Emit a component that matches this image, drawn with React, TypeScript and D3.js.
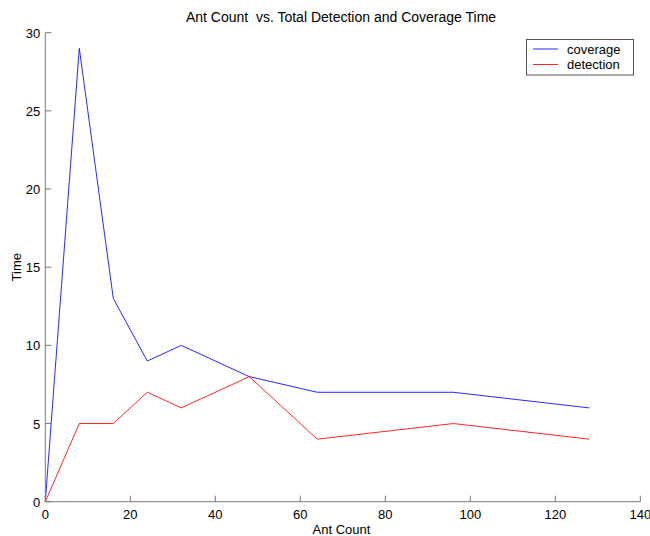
import React from "react";
import * as d3 from "d3";

const antCounts = [0, 8, 16, 24, 32, 48, 64, 96, 128];
const coverage = [0, 29, 13, 9, 10, 8, 7, 7, 6];
const detection = [0, 5, 5, 7, 6, 8, 4, 5, 4];
const xTicks = [0, 20, 40, 60, 80, 100, 120, 140];
const yTicks = [0, 5, 10, 15, 20, 25, 30];
const seriesNames = ["coverage", "detection"];
const seriesColors = ["#0000ff", "#ff0000"];

export default function App() {
  const x = d3.scaleLinear().domain([0, 140]).range([45.3, 640.3]);
  const y = d3.scaleLinear().domain([0, 30]).range([501.7, 32.7]);
  const line = d3
    .line<number>()
    .x((_, i) => x(antCounts[i]))
    .y((d) => y(d));
  const series = [coverage, detection];
  const font = "'Liberation Sans', Arial, sans-serif";
  const axisColor = "#777";
  return (
    <svg
      width={650}
      height={536}
      style={{ position: "absolute", left: 0, top: 0, background: "#fff" }}
      fontFamily={font}
    >
      <rect x={0} y={0} width={650} height={536} fill="#fff" />
      {series.map((s, i) => (
        <path key={i} d={line(s) || ""} fill="none" stroke={seriesColors[i]} strokeWidth={0.85} />
      ))}
      <line x1={x(0)} x2={x(140)} y1={y(0)} y2={y(0)} stroke={axisColor} />
      <line x1={x(0)} x2={x(0)} y1={y(0)} y2={y(30)} stroke={axisColor} />
      {xTicks.map((t) => (
        <g key={"x" + t}>
          <line x1={x(t)} x2={x(t)} y1={y(0)} y2={y(0) - 6} stroke={axisColor} />
          <text x={x(t)} y={y(0) + 17} textAnchor="middle" fontSize={13} fill="#000">
            {t}
          </text>
        </g>
      ))}
      {yTicks.map((t) => (
        <g key={"y" + t}>
          <line x1={x(0)} x2={x(0) + 6} y1={y(t)} y2={y(t)} stroke={axisColor} />
          <text x={x(0) - 5} y={y(t) + 5} textAnchor="end" fontSize={13} fill="#000">
            {t}
          </text>
        </g>
      ))}
      <text x={341} y={22} textAnchor="middle" fontSize={14} fill="#000" style={{ whiteSpace: "pre" }}>
        {"Ant Count  vs. Total Detection and Coverage Time"}
      </text>
      <text x={341.5} y={534} textAnchor="middle" fontSize={13} fill="#000">
        Ant Count
      </text>
      <text
        transform={`translate(21,${y(15)}) rotate(-90)`}
        textAnchor="middle"
        fontSize={13}
        fill="#000"
      >
        Time
      </text>
      <g>
        <rect x={526.5} y={39.5} width={107} height={35.5} fill="#fff" stroke="#555" />
        {seriesNames.map((n, i) => (
          <g key={n}>
            <line x1={533} x2={558} y1={49 + i * 15.5} y2={49 + i * 15.5} stroke={seriesColors[i]} strokeWidth={0.85} />
            <text x={567} y={53.5 + i * 15.5} fontSize={13} fill="#000">
              {n}
            </text>
          </g>
        ))}
      </g>
    </svg>
  );
}
